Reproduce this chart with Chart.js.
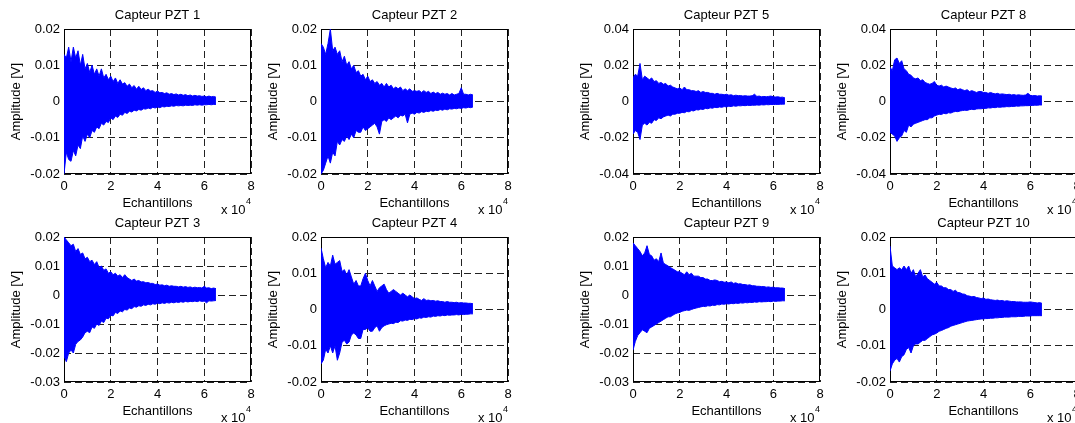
<!DOCTYPE html>
<html>
<head>
<meta charset="utf-8">
<script src="https://cdn.jsdelivr.net/npm/chart.js@4.4.0/dist/chart.umd.min.js"></script>
<style>
  body { margin: 0; background: #fff; width: 1075px; height: 423px; overflow: hidden; position: relative; }
  canvas { position: absolute; }
</style>
</head>
<body>
<script>
// sample index (x axis), one point every 1000 samples
const sampleIdx = [0, 1000, 2000, 3000, 4000, 5000, 6000, 7000, 8000, 9000,
  10000, 11000, 12000, 13000, 14000, 15000, 16000, 17000, 18000, 19000,
  20000, 21000, 22000, 23000, 24000, 25000, 26000, 27000, 28000, 29000,
  30000, 31000, 32000, 33000, 34000, 35000, 36000, 37000, 38000, 39000,
  40000, 41000, 42000, 43000, 44000, 45000, 46000, 47000, 48000, 49000,
  50000, 51000, 52000, 53000, 54000, 55000, 56000, 57000, 58000, 59000,
  60000, 61000, 62000, 63000, 64000, 65000];

// signal envelopes, in mV (upper peaks / lower peaks)
const pzt1Upper = [13, 12, 15, 11, 15, 12, 14, 10, 13, 9,
  10.5, 8, 10, 7.5, 9, 7, 9, 6.5, 7.5, 6,
  7, 5.5, 6.5, 5, 6, 4.8, 5.2, 4.2, 4.8, 3.8,
  4.4, 3.4, 4.2, 3.3, 3.8, 3, 3.4, 2.9, 3, 2.5,
  2.9, 2.4, 2.5, 2.2, 2.4, 2, 2.2, 1.9, 2.1, 1.8,
  2, 1.7, 1.9, 1.6, 1.8, 1.5, 1.7, 1.5, 1.6, 1.4,
  1.5, 1.3, 1.5, 1.3, 1.4, 1.2];
const pzt1Lower = [-20, -14, -16, -16.5, -13.5, -15, -12, -13, -9.5, -11,
  -9, -10, -8, -8.5, -7, -7.5, -6, -6.5, -5.5, -5.8,
  -4.5, -5, -4, -4.4, -3.5, -3.8, -3, -3.3, -2.7, -2.9,
  -2.4, -2.6, -2.2, -2.4, -2, -2.1, -1.8, -2, -1.6, -1.8,
  -1.5, -1.7, -1.4, -1.5, -1.3, -1.4, -1.2, -1.3, -1.1, -1.2,
  -1.1, -1.2, -1, -1.1, -1, -1.1, -0.9, -1, -0.9, -1,
  -0.9, -0.9, -0.8, -0.9, -0.8, -0.8];

const pzt2Upper = [16, 15, 13, 16, 20, 14, 15, 13, 14, 11,
  12.5, 10, 11, 9, 10, 8, 8.5, 7, 7.5, 6,
  7, 5.5, 6, 5, 5.5, 4.5, 5, 4, 5, 4,
  4.5, 3.5, 4, 3.5, 4, 3, 3.5, 3, 3.5, 2.8,
  3, 2.8, 3, 2.5, 3, 2.5, 2.8, 2.2, 2.6, 2.2,
  2.5, 2, 2.3, 2, 2.2, 1.8, 2.2, 1.8, 2, 2.2,
  3.8, 2, 2, 1.8, 2, 1.8];
const pzt2Lower = [-20, -19, -17, -15, -17, -14, -15, -11, -12, -10.5,
  -11, -9.5, -10.5, -9, -10, -8, -8.5, -8.5, -7, -8,
  -7.5, -7, -6.5, -6, -7, -9, -5.5, -5, -5.5, -4.5,
  -5, -4.5, -4, -4.5, -3.8, -4, -3.5, -5.9, -3.5, -3.2,
  -3.5, -3, -3.2, -2.8, -3, -2.7, -2.8, -2.5, -2.7, -2.4,
  -2.5, -2.2, -2.4, -2.1, -2.3, -2, -2.1, -1.9, -2, -1.8,
  -1.9, -1.7, -1.8, -1.6, -1.7, -1.5];

const pzt3Upper = [20, 19, 18, 17, 17.5, 15, 16, 14, 14.5, 12.5,
  13, 11.5, 12, 10.5, 11.5, 9.5, 10, 8.5, 9, 7.5,
  8, 7, 7.5, 6.5, 7, 6, 7, 6, 5.5, 5,
  5.5, 4.8, 5, 4.5, 4.6, 4.2, 4.3, 4, 4, 3.6,
  3.8, 3.4, 3.5, 3.2, 3.4, 3, 3.2, 3, 3, 2.8,
  3, 2.7, 2.9, 2.6, 2.8, 2.5, 2.7, 2.5, 2.6, 2.4,
  3, 2.4, 2.5, 2.2, 2.4, 2.2];
const pzt3Lower = [-21, -23, -20, -19, -20, -17, -16, -15.5, -14.5, -13,
  -12.5, -13, -11, -11.5, -10, -10.5, -9, -9.5, -8, -8.2,
  -7, -7.2, -6, -6.4, -5.5, -5.8, -5, -5.2, -4.5, -4.7,
  -4, -4.2, -3.7, -3.9, -3.4, -3.6, -3.2, -3.4, -3, -3.2,
  -2.8, -3, -2.7, -2.9, -2.6, -2.8, -2.5, -2.7, -2.4, -2.6,
  -2.3, -2.5, -2.2, -2.4, -2.2, -2.3, -2.1, -2.3, -2, -2.2,
  -2.1, -2.7, -2, -2.1, -2, -1.9];

const pzt4Upper = [17, 14, 11.5, 13, 12, 15, 12.5, 13, 13.5, 10.5,
  11, 9.5, 11, 9, 7, 8, 6.5, 6.5, 8.5, 10,
  8, 6.5, 8, 6.5, 5, 6, 6.5, 7, 5.5, 4.5,
  5, 5.5, 5, 4.5, 4, 4.5, 4, 3.5, 4, 3.5,
  3, 3.2, 2.8, 2.5, 3, 2.5, 2.6, 2.4, 2.5, 2.3,
  2.4, 2.2, 2.2, 2, 2.2, 2, 2, 1.9, 2, 1.8,
  1.9, 1.8, 1.8, 1.7, 1.7, 1.6];
const pzt4Lower = [-15, -14, -11, -12, -10, -12, -10, -14, -12, -9,
  -8.5, -9.5, -9, -7, -6.5, -7, -8, -8, -5.5, -5.5,
  -5, -6, -6, -5, -4.5, -6, -5, -4.5, -4.2, -4,
  -3.8, -3.9, -3.5, -3.6, -3.1, -3.2, -2.9, -3, -2.7, -2.8,
  -2.5, -2.6, -2.3, -2.4, -2.1, -2.2, -2, -2.1, -1.8, -1.9,
  -1.7, -1.8, -1.6, -1.7, -1.5, -1.6, -1.5, -1.5, -1.4, -1.5,
  -1.3, -1.4, -1.3, -1.3, -1.2, -1.2];

const pzt5Upper = [13, 15, 14, 21, 12, 14, 13, 12, 13, 11,
  11.5, 10, 10.5, 9.5, 10, 8.5, 9, 8, 7.5, 7,
  7.5, 6.5, 8, 6.5, 6.5, 6, 6, 5.5, 6, 5,
  5.5, 5, 5, 4.5, 4.5, 4, 4.5, 4, 4, 3.7,
  4, 3.5, 3.7, 3.2, 3.5, 3.2, 3.3, 3, 3.2, 3,
  3, 3.2, 4, 2.8, 3, 2.6, 2.8, 2.6, 2.8, 3,
  2.6, 2.5, 2.6, 2.3, 2.4, 2];
const pzt5Lower = [-18, -16, -17, -21, -13, -12, -13, -11.5, -12, -10,
  -10.5, -9, -9.5, -8.5, -8, -7.5, -8, -7, -7, -6.5,
  -6.5, -6, -6.2, -5.5, -5.7, -5, -5.2, -4.5, -4.7, -4.2,
  -4.4, -3.8, -4, -3.5, -3.7, -3.2, -3.4, -3, -3.2, -2.8,
  -3, -2.6, -2.8, -2.4, -2.6, -2.3, -2.4, -2.2, -2.3, -2.1,
  -2.2, -2, -2.1, -1.9, -2, -1.8, -1.9, -1.7, -1.8, -1.6,
  -1.7, -1.6, -1.6, -1.5, -1.5, -1.4];

const pzt8Upper = [19, 17, 23, 24, 21, 22.5, 18, 17, 15, 14.5,
  13, 12.5, 13, 11.5, 12, 10.5, 10, 9.5, 10, 11,
  9, 8.5, 9, 8, 8.5, 8, 7.5, 7, 7.5, 6.5,
  7, 6.5, 6, 6.5, 5.5, 6, 5.5, 5, 5.5, 5.5,
  5, 5, 4.5, 5, 4.5, 4.2, 4.5, 4, 4.2, 4,
  3.8, 4, 3.6, 3.8, 3.5, 3.7, 3.5, 3.4, 3.6, 4.5,
  3.4, 3.2, 3.3, 3, 3.2, 3];
const pzt8Lower = [-17, -18, -19, -22, -20, -19, -16, -17, -13, -14,
  -12.5, -12, -11.5, -11, -10.5, -10, -10, -9, -9, -8,
  -7.5, -7, -7.2, -6.5, -6.8, -6.2, -6.4, -5.8, -5.5, -5.6,
  -5.2, -5, -4.8, -4.9, -4.5, -4.3, -4.5, -4.1, -4, -4,
  -3.8, -3.8, -3.5, -3.6, -3.3, -3.4, -3.1, -3.2, -3, -3,
  -2.8, -2.9, -2.7, -2.7, -2.5, -2.6, -2.4, -2.4, -2.3, -2.3,
  -2.2, -2.2, -2, -2.1, -1.9, -1.9];

const pzt9Upper = [18, 17, 16, 15, 13.5, 14.5, 17, 14, 13.5, 12,
  12.5, 11.5, 14.5, 11, 10.5, 10, 9.5, 9, 8.5, 8,
  8, 7.5, 7, 8, 7, 7.5, 6.5, 6.5, 6.5, 6,
  6, 5.5, 5.5, 5, 5, 5.2, 5, 4.6, 4.7, 4.4,
  4.5, 4.2, 4.5, 4, 4.2, 3.8, 3.9, 3.6, 3.6, 3.4,
  3.5, 3.2, 3.2, 3, 3, 2.9, 2.9, 2.7, 2.8, 2.6,
  2.7, 2.5, 2.5, 2.4, 2.4, 2.2];
const pzt9Lower = [-19, -16, -14, -13, -12, -12.5, -13, -11.5, -11, -10.5,
  -10, -9.5, -9, -8.5, -8, -7.5, -7.5, -7, -6.5, -6.2,
  -6, -5.6, -5.4, -5.2, -5.3, -5, -4.7, -4.5, -4.3, -4.1,
  -3.9, -4, -3.7, -3.8, -3.5, -3.6, -3.3, -3.4, -3.1, -3.2,
  -3, -3.1, -2.9, -3, -2.8, -2.9, -2.7, -2.8, -2.6, -2.7,
  -2.5, -2.6, -2.4, -2.5, -2.3, -2.4, -2.3, -2.3, -2.2, -2.3,
  -2.1, -2.2, -2.1, -2.1, -2, -2];

const pzt10Upper = [17.5, 12, 11.5, 11, 11.5, 11, 12, 11, 12, 10,
  11, 9, 10, 11, 9, 9.5, 8.5, 8, 7.5, 7,
  7.5, 6.5, 6.5, 6, 6, 5.5, 5.5, 5, 5.3, 4.7,
  4.6, 4.3, 4.2, 3.8, 3.7, 3.5, 3.6, 3.3, 3.2, 3,
  3.2, 2.8, 2.9, 2.7, 2.6, 2.5, 2.6, 2.4, 2.5, 2.3,
  2.4, 2.3, 2.2, 2.2, 2.1, 2.1, 2.1, 2, 2, 2,
  2.1, 2, 1.9, 1.8, 1.9, 1.7];
const pzt10Lower = [-17, -15, -14, -13.5, -14.5, -13, -12.5, -11, -10.5, -12,
  -10, -9.5, -9.5, -9, -8.5, -8.5, -8, -7.5, -7, -6.8,
  -6.5, -6, -5.8, -5.5, -5.2, -5, -4.6, -4.4, -4.2, -4,
  -3.8, -3.6, -3.4, -3.2, -3.1, -3, -2.9, -2.8, -2.7, -2.6,
  -2.6, -2.5, -2.5, -2.4, -2.4, -2.3, -2.3, -2.2, -2.2, -2.1,
  -2.1, -2.1, -2, -2, -2, -1.9, -1.9, -1.9, -1.8, -1.8,
  -1.8, -1.7, -1.7, -1.7, -1.7, -1.7];

// x tick values (samples), shown as multiples of 10^4
const xTicks = [0, 20000, 40000, 60000, 80000];

const FONT = '"Liberation Sans", Arial, Helvetica, sans-serif';
const BLUE = '#0000ff';

const panels = [
  { title: 'Capteur PZT 1', up: pzt1Upper, lo: pzt1Lower, yMin: -0.02, yMax: 0.02, yStep: 0.01, left: 0, top: 0 },
  { title: 'Capteur PZT 2', up: pzt2Upper, lo: pzt2Lower, yMin: -0.02, yMax: 0.02, yStep: 0.01, left: 257, top: 0 },
  { title: 'Capteur PZT 5', up: pzt5Upper, lo: pzt5Lower, yMin: -0.04, yMax: 0.04, yStep: 0.02, left: 569, top: 0 },
  { title: 'Capteur PZT 8', up: pzt8Upper, lo: pzt8Lower, yMin: -0.04, yMax: 0.04, yStep: 0.02, left: 826, top: 0 },
  { title: 'Capteur PZT 3', up: pzt3Upper, lo: pzt3Lower, yMin: -0.03, yMax: 0.02, yStep: 0.01, left: 0, top: 208 },
  { title: 'Capteur PZT 4', up: pzt4Upper, lo: pzt4Lower, yMin: -0.02, yMax: 0.02, yStep: 0.01, left: 257, top: 208 },
  { title: 'Capteur PZT 9', up: pzt9Upper, lo: pzt9Lower, yMin: -0.03, yMax: 0.02, yStep: 0.01, left: 569, top: 208 },
  { title: 'Capteur PZT 10', up: pzt10Upper, lo: pzt10Lower, yMin: -0.02, yMax: 0.02, yStep: 0.01, left: 826, top: 208 },
];

// MATLAB-like axes box and the "x 10^4" exponent label
const matlabAxes = {
  id: 'matlabAxes',
  beforeDatasetsDraw(chart) {
    const { ctx, chartArea: a } = chart;
    ctx.save();
    ctx.strokeStyle = '#000';
    ctx.lineWidth = 1;
    ctx.strokeRect(a.left + 0.5, a.top + 0.5, a.right - a.left - 1, a.bottom - a.top - 1);
    ctx.restore();
  },
  afterDraw(chart) {
    const { ctx, chartArea: a } = chart;
    ctx.save();
    ctx.fillStyle = '#000';
    ctx.textAlign = 'right';
    ctx.textBaseline = 'alphabetic';
    ctx.font = '9px ' + FONT;
    ctx.fillText('4', a.right, a.bottom + 30);
    const w = ctx.measureText('4').width;
    ctx.font = '13px ' + FONT;
    ctx.fillText('x 10', a.right - w - 0.5, a.bottom + 40);
    ctx.restore();
  }
};

Chart.defaults.color = '#000';
Chart.defaults.font.family = FONT;
Chart.defaults.font.size = 13;

panels.forEach(p => {
  const canvas = document.createElement('canvas');
  canvas.width = 261;
  canvas.height = 220;
  canvas.style.left = p.left + 'px';
  canvas.style.top = p.top + 'px';
  document.body.appendChild(canvas);

  const toPts = arr => arr.map((v, i) => ({ x: sampleIdx[i], y: v / 1000 }));

  new Chart(canvas, {
    type: 'line',
    data: {
      datasets: [
        { data: toPts(p.up), borderColor: BLUE, backgroundColor: BLUE, borderWidth: 1, pointRadius: 0, fill: '+1', tension: 0 },
        { data: toPts(p.lo), borderColor: BLUE, backgroundColor: BLUE, borderWidth: 1, pointRadius: 0, fill: false, tension: 0 }
      ]
    },
    options: {
      responsive: false,
      animation: false,
      layout: { padding: { left: 0, right: 10, top: 0, bottom: 0 } },
      plugins: {
        legend: { display: false },
        tooltip: { enabled: false },
        title: {
          display: true,
          text: p.title,
          fullSize: false,
          color: '#000',
          font: { size: 13, weight: 'normal', family: FONT },
          padding: { top: 8, bottom: 5.4 }
        }
      },
      scales: {
        x: {
          type: 'linear',
          min: 0,
          max: 80000,
          afterBuildTicks: s => { s.ticks = xTicks.map(v => ({ value: v })); },
          afterFit: s => { s.height = 46; },
          grid: { color: '#222', lineWidth: 1, drawTicks: false },
          border: { display: false, dash: [7, 4] },
          ticks: { padding: 5, maxRotation: 0, autoSkip: false, callback: v => String(v / 10000) },
          title: { display: true, text: 'Echantillons', padding: { top: 0, bottom: 9 }, font: { size: 13 } }
        },
        y: {
          min: p.yMin,
          max: p.yMax,
          afterFit: s => { s.width = 64; },
          grid: { color: '#222', lineWidth: 1, drawTicks: false },
          border: { display: false, dash: [7, 4] },
          ticks: { stepSize: p.yStep, padding: 4, autoSkip: false, callback: v => String(Number(v.toFixed(2))) },
          title: { display: true, text: 'Amplitude [V]', padding: { top: 9, bottom: 0 }, font: { size: 13 } }
        }
      }
    },
    plugins: [matlabAxes]
  });
});
</script>
</body>
</html>
